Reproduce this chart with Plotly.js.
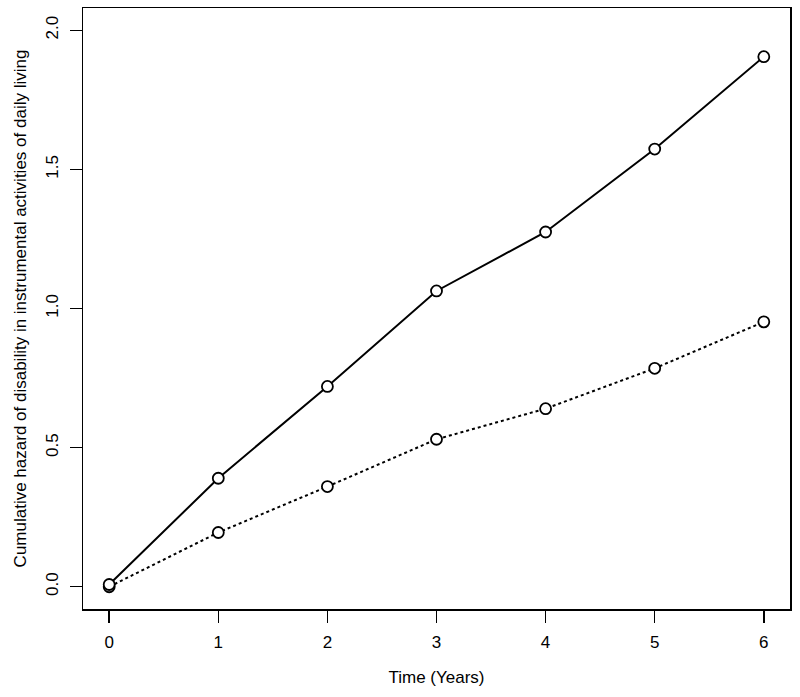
<!DOCTYPE html>
<html>
<head>
<meta charset="utf-8">
<script src="https://cdn.plot.ly/plotly-3.0.1.min.js"></script>
<style>
  html, body { margin: 0; padding: 0; background: #fff; }
  #chart { width: 800px; height: 697px; }
</style>
</head>
<body>
<div id="chart"></div>
<script>
// years of follow-up
const years = [0, 1, 2, 3, 4, 5, 6];
// cumulative hazard, solid line group
const hazardSolid = [0.008, 0.39, 0.72, 1.063, 1.275, 1.573, 1.905];
// cumulative hazard, dotted line group
const hazardDotted = [0, 0.195, 0.36, 0.53, 0.64, 0.785, 0.952];

const xTicks = [0, 1, 2, 3, 4, 5, 6];
const yTicks = [0, 0.5, 1, 1.5, 2];
const yTickText = ["0.0", "0.5", "1.0", "1.5", "2.0"];

const font = "Liberation Sans, Arial, sans-serif";

function series(y, dash){
    return {
        x: years,
        y: y,
        type: "scatter",
        mode: "lines+markers",
        line: {color: "black", width: 2, dash: dash},
        marker: {symbol: "circle", size: 11, color: "white", line: {color: "black", width: 1.8}},
        cliponaxis: false,
        hoverinfo: "x+y"
    };
}

var data = [series(hazardDotted, "dot"), series(hazardSolid, "solid")];

const layout = {
    width: 800, height: 697,
    margin: {l: 83, r: 10, t: 8, b: 88},
    paper_bgcolor: "white", plot_bgcolor: "white",
    showlegend: false,
    font: {family: font, size: 17, color: "black"},
    xaxis: {
        range: [-0.24, 6.24], tickvals: xTicks, ticktext: xTicks.map(String),
        showgrid: false, zeroline: false,
        showline: true, mirror: true, linecolor: "black", linewidth: 1.5,
        ticks: "outside", ticklen: 12, tickwidth: 1.5, tickcolor: "black",
        ticklabelstandoff: 5,
        title: {text: "Time (Years)", font: {size: 17}, standoff: 20}
    },
    yaxis: {
        range: [-0.08, 2.08], tickvals: yTicks, ticktext: yTickText,
        tickangle: -90,
        showgrid: false, zeroline: false,
        showline: true, mirror: true, linecolor: "black", linewidth: 1.5,
        ticks: "outside", ticklen: 12, tickwidth: 1.5, tickcolor: "black",
        ticklabelstandoff: 5,
        title: {text: "Cumulative hazard of disability in instrumental activities of daily living", font: {size: 17}, standoff: 12}
    }
};

Plotly.newPlot("chart", data, layout, {displayModeBar: false, staticPlot: true});
</script>
</body>
</html>
